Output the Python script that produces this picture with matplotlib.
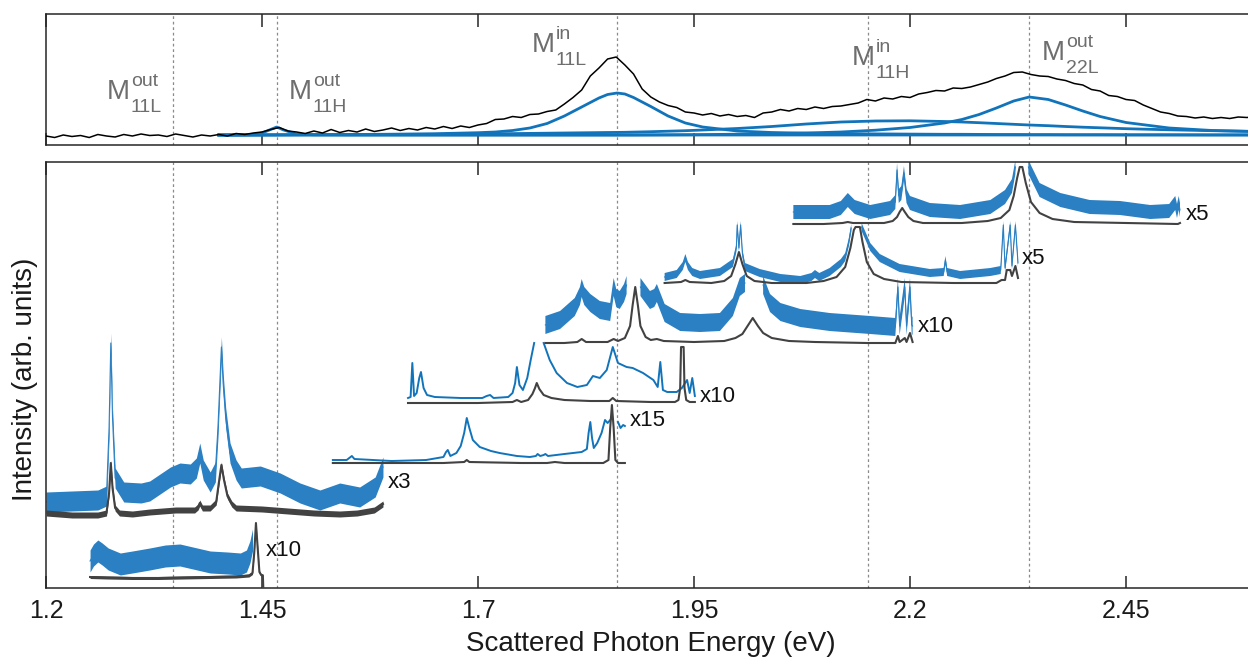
import numpy as np
import matplotlib
matplotlib.use("Agg")
import matplotlib.pyplot as plt

plt.rcParams['font.family'] = ['Liberation Sans', 'DejaVu Sans']

# ---------------- data ----------------
# Upper panel: measured spectrum (arb. units), sampled every 0.01 eV from 1.20 eV
top_e0, top_de = 1.20, 0.01
top_counts = [
    9.0, 7.5, 10.0, 8.5, 9.5, 7.5, 10.5, 9.0, 8.0, 10.5,
    9.0, 11.0, 9.5, 10.0, 8.5, 11.0, 9.5, 8.0, 10.0, 9.0,
    10.5, 9.0, 11.5, 10.5, 12.0, 13.0, 15.5, 17.5, 14.0, 13.0,
    11.5, 14.0, 12.0, 15.5, 12.5, 14.5, 13.0, 16.0, 13.5, 15.0,
    17.0, 14.5, 16.5, 15.0, 17.5, 16.0, 18.5, 16.5, 19.0, 17.5,
    20.0, 21.5, 25.5, 26.0, 28.5, 27.5, 30.5, 31.0, 33.5, 35.0,
    41.0, 47.5, 55.0, 69.0, 77.0, 86.0, 88.0, 80.0, 71.0, 56.0,
    48.0, 43.0, 39.5, 37.5, 33.0, 32.0, 30.0, 31.5, 29.0, 30.5,
    28.5, 29.5, 27.5, 32.0, 33.0, 35.5, 34.0, 36.5, 35.5, 38.0,
    36.5, 38.5, 39.0, 40.5, 42.0, 45.5, 44.0, 47.0, 46.0, 48.5,
    47.5, 51.0, 52.5, 54.5, 54.0, 57.0, 56.5, 58.0, 60.5, 63.0,
    66.5, 69.0, 72.5, 73.0, 70.5, 69.0, 68.5, 66.0, 64.5, 61.5,
    60.0, 55.5, 54.0, 49.5, 48.5, 45.5, 44.5, 40.0, 36.5, 33.0,
    31.5, 29.0, 28.5, 27.0, 28.0, 26.5, 27.5, 26.5, 28.0, 27.5,
    28.5,
]

# Upper panel: fitted components
fit_energy = [1.40, 1.42, 1.44, 1.45, 1.46, 1.467, 1.475, 1.49, 1.51, 1.55,
              1.60, 1.65, 1.70, 1.72, 1.74, 1.76, 1.78, 1.80, 1.82, 1.84,
              1.85, 1.861, 1.87, 1.88, 1.90, 1.92, 1.94, 1.96, 2.00, 2.04,
              2.08, 2.12, 2.16, 2.20, 2.24, 2.26, 2.28, 2.30, 2.32, 2.338,
              2.36, 2.38, 2.40, 2.42, 2.45, 2.50, 2.55, 2.60]
fit_m11h_out = [10.0, 10.1, 10.5, 12.0, 15.5, 18.0, 15.0, 11.0, 10.2, 10.0,
                10.0, 10.0, 10.0, 10.0, 10.0, 10.0, 10.0, 10.0, 10.0, 10.0,
                10.0, 10.0, 10.0, 10.0, 10.0, 10.0, 10.0, 10.0, 10.0, 10.0,
                10.0, 10.0, 10.0, 10.0, 10.0, 10.0, 10.0, 10.0, 10.0, 10.0,
                10.0, 10.0, 10.0, 10.0, 10.0, 10.0, 10.0, 10.0]
fit_m11l_in = [10.0, 10.0, 10.0, 10.1, 10.1, 10.1, 10.2, 10.2, 10.3, 10.5,
               10.8, 11.3, 12.3, 13.0, 14.5, 17.0, 21.5, 29.0, 38.0, 47.0,
               50.5, 52.0, 51.0, 47.5, 38.5, 29.0, 22.0, 18.0, 14.0, 12.5,
               11.8, 11.4, 11.1, 10.9, 10.7, 10.7, 10.6, 10.5, 10.5, 10.4,
               10.4, 10.3, 10.3, 10.3, 10.2, 10.2, 10.1, 10.1]
fit_m11h_in = [10.0, 10.0, 10.0, 10.0, 10.1, 10.1, 10.1, 10.2, 10.2, 10.3,
               10.4, 10.6, 11.0, 11.2, 11.4, 11.6, 11.8, 12.0, 12.2, 12.4,
               12.5, 12.6, 12.7, 12.9, 13.3, 13.8, 14.3, 15.0, 16.5, 18.5,
               21.0, 23.0, 24.0, 24.2, 23.5, 23.0, 22.3, 21.5, 20.7, 20.0,
               19.3, 18.5, 17.8, 17.2, 16.3, 15.2, 14.3, 13.5]
fit_m22l_out = [10.0, 10.0, 10.0, 10.0, 10.0, 10.0, 10.0, 10.0, 10.0, 10.0,
                10.0, 10.0, 10.0, 10.0, 10.0, 10.0, 10.0, 10.0, 10.0, 10.0,
                10.0, 10.0, 10.0, 10.0, 10.1, 10.2, 10.3, 10.4, 10.8, 11.3,
                12.0, 13.0, 14.8, 17.5, 22.0, 25.5, 30.5, 37.0, 44.0, 48.0,
                45.5, 40.0, 34.0, 28.5, 22.5, 17.0, 14.5, 13.5]

# Transition energies (eV)
transitions = [1.347, 1.467, 1.861, 2.151, 2.338]
state_names = [("out", "11L"), ("out", "11H"), ("in", "11L"), ("in", "11H"), ("out", "22L")]

# Lower panel: stacked spectra (energy eV, intensity arb. units, offsets included)
s1_gray = [(1.251, 11), (1.270, 10.5), (1.300, 10), (1.330, 10), (1.360, 10.5), (1.390, 11),
           (1.420, 11.5), (1.435, 12.5), (1.439, 15), (1.441, 35), (1.443, 65), (1.445, 40),
           (1.447, 16), (1.449, 13), (1.451, 12.5), (1.4515, 0)]
s1_blue = [(1.251, 27), (1.255, 33), (1.260, 37), (1.265, 34), (1.272, 29), (1.286, 24),
           (1.300, 26), (1.320, 29), (1.338, 32), (1.355, 33), (1.370, 30), (1.390, 26),
           (1.410, 25), (1.425, 24), (1.432, 27), (1.436, 36), (1.439, 48)]

s2_gray = [(1.200, 75), (1.230, 73), (1.260, 73), (1.270, 75), (1.273, 95), (1.275, 125),
           (1.277, 100), (1.280, 80), (1.285, 75), (1.300, 74), (1.320, 76), (1.350, 78),
           (1.372, 78), (1.376, 81), (1.378, 85), (1.381, 80), (1.390, 80), (1.397, 86),
           (1.400, 105), (1.403, 123), (1.406, 108), (1.410, 92), (1.415, 84), (1.420, 80),
           (1.450, 79), (1.480, 77), (1.510, 75), (1.540, 74), (1.560, 75), (1.580, 78),
           (1.590, 84)]
s2_blue = [(1.200, 86), (1.230, 87), (1.260, 88), (1.270, 92), (1.273, 160), (1.275, 245),
           (1.277, 170), (1.280, 110), (1.290, 96), (1.310, 95), (1.320, 97), (1.332, 104),
           (1.344, 111), (1.355, 115), (1.367, 114), (1.374, 120), (1.378, 135), (1.382, 118),
           (1.390, 106), (1.396, 116), (1.399, 160), (1.403, 241), (1.405, 205), (1.408, 170),
           (1.413, 135), (1.420, 118), (1.426, 110), (1.448, 112), (1.471, 105), (1.494, 95),
           (1.517, 88), (1.540, 95), (1.563, 91), (1.581, 101), (1.590, 121)]

s3_gray = [(1.532, 125), (1.560, 125), (1.600, 125), (1.660, 125), (1.684, 126), (1.687, 128),
           (1.690, 126), (1.750, 125), (1.780, 125), (1.789, 126), (1.800, 125), (1.830, 125),
           (1.845, 125), (1.851, 128), (1.853, 160), (1.855, 183), (1.857, 160), (1.859, 128),
           (1.862, 125), (1.870, 125)]
s3_blue = [(1.532, 128), (1.548, 128), (1.551, 130), (1.554, 132), (1.557, 129), (1.600, 127),
           (1.640, 128), (1.660, 131), (1.663, 136), (1.665, 138), (1.668, 132), (1.675, 135),
           (1.680, 142), (1.684, 155), (1.687, 170), (1.690, 160), (1.694, 148), (1.702, 141),
           (1.715, 137), (1.725, 135), (1.745, 132), (1.760, 131), (1.767, 132), (1.769, 134),
           (1.772, 132), (1.776, 133), (1.778, 134), (1.781, 132), (1.800, 134), (1.820, 136),
           (1.826, 139), (1.828, 155), (1.830, 166), (1.832, 150), (1.834, 140), (1.838, 145),
           (1.843, 155), (1.847, 168), (1.850, 165), (1.855, 170), (1.858, np.nan), (1.862, 166),
           (1.865, 160), (1.868, 163), (1.870, 162)]

s4_gray = [(1.619, 185), (1.650, 185), (1.700, 185), (1.740, 186), (1.745, 188), (1.750, 186),
           (1.758, 188), (1.763, 194), (1.766, 200), (1.768, 205), (1.771, 199), (1.776, 193),
           (1.785, 190), (1.800, 188), (1.830, 187), (1.852, 187), (1.856, 190), (1.860, 187),
           (1.900, 186), (1.928, 186), (1.932, 188), (1.934, 200), (1.935, 241), (1.938, 241),
           (1.939, 200), (1.941, 188), (1.945, 186), (1.951, 186)]
s4_blue = [(1.619, 190), (1.622, 191), (1.624, 225), (1.626, 192), (1.629, 195), (1.632, 210),
           (1.634, 216), (1.637, 200), (1.641, 193), (1.650, 191), (1.680, 190), (1.705, 190),
           (1.710, 192), (1.714, 193), (1.718, 190), (1.735, 191), (1.740, 195), (1.743, 205),
           (1.745, 221), (1.748, 203), (1.752, 198), (1.757, 210), (1.761, 228), (1.765, 245),
           (1.770, np.nan), (1.776, 245), (1.783, 228), (1.791, 215), (1.803, 205), (1.815, 201),
           (1.826, 203), (1.833, 212), (1.841, 210), (1.849, 218), (1.856, 241), (1.862, 225),
           (1.872, 221), (1.879, 220), (1.891, 215), (1.903, 208), (1.908, 201), (1.911, 226),
           (1.914, 198), (1.919, 196), (1.930, 196), (1.936, 200), (1.942, 208), (1.945, 195),
           (1.948, 210), (1.951, 192)]

s5_gray = [(1.778, 245), (1.800, 245), (1.815, 246), (1.820, 249), (1.825, 246), (1.850, 246),
           (1.857, 249), (1.862, 247), (1.870, 250), (1.876, 262), (1.879, 283), (1.882, 301),
           (1.885, 283), (1.888, 262), (1.894, 251), (1.900, 248), (1.907, 249), (1.915, 247),
           (1.950, 246), (1.985, 247), (1.998, 250), (2.006, 254), (2.012, 262), (2.018, 270),
           (2.024, 262), (2.030, 255), (2.040, 250), (2.060, 247), (2.090, 246), (2.150, 245),
           (2.183, 245), (2.186, 252), (2.188, 246), (2.194, 250), (2.196, 246), (2.200, 255),
           (2.203, 246)]
s5_blue = [(1.778, 263), (1.795, 268), (1.812, 281), (1.818, 292), (1.820, 300), (1.823, 292),
           (1.830, 285), (1.841, 278), (1.853, 276), (1.857, 301), (1.860, 290), (1.864, 288),
           (1.869, 295), (1.872, 303), (1.874, np.nan), (1.888, 301), (1.899, 288), (1.904, 290),
           (1.907, 295), (1.916, 275), (1.934, 266), (1.957, 265), (1.980, 266), (1.995, 281),
           (2.003, 301), (2.009, 305), (2.012, np.nan), (2.030, 303), (2.038, 285), (2.050, 276),
           (2.073, 270), (2.107, 266), (2.154, 263), (2.183, 261), (2.186, 301), (2.188, 262),
           (2.194, 301), (2.196, 262), (2.200, 301), (2.202, 263), (2.203, 262)]

s6_gray = [(1.916, 305), (1.935, 306), (1.940, 308), (1.945, 306), (1.970, 305), (1.985, 307),
           (1.993, 312), (1.998, 324), (2.002, 336), (2.006, 324), (2.011, 312), (2.020, 307),
           (2.040, 305), (2.080, 305), (2.100, 307), (2.115, 311), (2.125, 321), (2.131, 340),
           (2.135, 358), (2.137, 361), (2.142, 361), (2.145, 346), (2.150, 326), (2.158, 314),
           (2.170, 309), (2.190, 306), (2.250, 305), (2.300, 305), (2.306, 308), (2.310, 308),
           (2.312, 318), (2.316, 318), (2.318, 312), (2.322, 322), (2.325, 310)]
s6_blue = [(1.916, 311), (1.930, 314), (1.937, 322), (1.940, 330), (1.943, 322), (1.948, 316),
           (1.957, 313), (1.980, 316), (1.995, 325), (1.999, 340), (2.000, 363), (2.002, 340),
           (2.004, 363), (2.006, 335), (2.009, 321), (2.026, 315), (2.050, 310), (2.073, 308),
           (2.086, 311), (2.090, 314), (2.095, 311), (2.107, 316), (2.120, 325), (2.125, 331),
           (2.129, 345), (2.132, 360), (2.134, np.nan), (2.144, 361), (2.154, 341), (2.165, 330),
           (2.188, 320), (2.223, 315), (2.239, 316), (2.241, 328), (2.243, 316), (2.258, 313),
           (2.293, 316), (2.305, 318), (2.308, 363), (2.310, 320), (2.316, 363), (2.318, 322),
           (2.322, 363), (2.325, 325)]

s7_gray = [(2.065, 364), (2.100, 364), (2.122, 365), (2.128, 366), (2.134, 365), (2.170, 365),
           (2.180, 367), (2.185, 371), (2.188, 376), (2.191, 380), (2.194, 376), (2.198, 371),
           (2.204, 367), (2.215, 365), (2.260, 365), (2.290, 367), (2.305, 370), (2.315, 378),
           (2.320, 392), (2.324, 410), (2.327, 421), (2.330, 421), (2.334, 405), (2.340, 386),
           (2.350, 375), (2.365, 369), (2.390, 366), (2.450, 365), (2.510, 364), (2.5125, 365)]
s7_blue = [(2.065, 376), (2.107, 376), (2.120, 380), (2.128, 388), (2.136, 381), (2.154, 376),
           (2.177, 380), (2.183, 386), (2.185, 418), (2.187, 392), (2.190, 395), (2.193, 415),
           (2.196, 392), (2.200, 385), (2.223, 378), (2.258, 376), (2.293, 381), (2.310, 391),
           (2.318, 402), (2.322, 421), (2.323, np.nan), (2.337, 421), (2.350, 398), (2.374, 388),
           (2.408, 381), (2.443, 380), (2.478, 376), (2.500, 377), (2.507, 385), (2.509, 377),
           (2.511, 385), (2.5125, 378)]

gray_traces = [s1_gray, s2_gray, s3_gray, s4_gray, s5_gray, s6_gray, s7_gray]
blue_traces = [s1_blue, s2_blue, s3_blue, s4_blue, s5_blue, s6_blue, s7_blue]
scale_factors = ["x10", "x3", "x15", "x10", "x10", "x5", "x5"]
# half-width of the noise band on each trace (arb. units)
blue_noise = [11, 10, 0, 0, 9, 4, 7]
gray_noise = [1.5, 3, 0, 0, 0, 0, 0]

x_ticks = [1.2, 1.45, 1.7, 1.95, 2.2, 2.45]
x_tick_labels = ["1.2", "1.45", "1.7", "1.95", "2.2", "2.45"]

# ---------------- styling ----------------
BLUE = "#1174bb"
BAND = "#2a80c2"
GRAY_TRACE = "#424242"
SPINE = "#262626"
LABEL_GRAY = "#6e6e6e"
DOT = "#8a8a8a"

W, H = 1248, 666
fig = plt.figure(figsize=(W / 100, H / 100), dpi=100)
x_lo, x_hi = 1.2, 2.6
ax_w = (1255.6 - 46) / W
ax_top = fig.add_axes([46 / W, 1 - 145 / H, ax_w, 131 / H])
ax_bot = fig.add_axes([46 / W, 1 - 588 / H, ax_w, 426 / H])

for ax in (ax_top, ax_bot):
    ax.set_xlim(x_lo, x_hi)
    ax.set_xticks(x_ticks)
    ax.set_xticklabels(x_tick_labels)
    ax.set_yticks([])
    for s in ax.spines.values():
        s.set_color(SPINE)
        s.set_linewidth(1.1)
    ax.tick_params(axis="x", direction="in", top=True, bottom=True, length=9,
                   width=1.1, color=SPINE, labelsize=18, labelcolor="#1a1a1a", pad=8)
    for e in transitions:
        ax.axvline(e, color=DOT, lw=0.9, ls=(0, (2.2, 2.2)), zorder=0.5)

ax_top.tick_params(labelbottom=False)
ax_top.set_ylim(0, 131)
ax_bot.set_ylim(0, 426)

# upper panel
top_energy = top_e0 + top_de * np.arange(len(top_counts))
for comp in (fit_m11h_out, fit_m11l_in, fit_m11h_in, fit_m22l_out):
    ax_top.plot(fit_energy, comp, color=BLUE, lw=2.0, zorder=2)
ax_top.plot(top_energy, top_counts, color="black", lw=1.1, zorder=3)

label_spots = [(1.2706, 0.351), (1.4813, 0.351), (1.7625, 0.710), (2.1329, 0.611), (2.3528, 0.649)]
for (sup, sub), (lx, ly) in zip(state_names, label_spots):
    kw = dict(xycoords=("data", "axes fraction"), color=LABEL_GRAY, ha="left", va="baseline")
    ax_top.annotate("M", xy=(lx, ly), fontsize=20, **kw)
    ax_top.annotate(sup, xy=(lx, ly), xytext=(17.2, 9.4), textcoords="offset points",
                    fontsize=14, **kw)
    ax_top.annotate(sub, xy=(lx, ly), xytext=(17.2, -9.4), textcoords="offset points",
                    fontsize=14, **kw)

# lower panel
label_offsets = [(2, 37), (5, 31), (5, 43), (5, 5), (5, 16), (4, 20), (6, 10)]
for gtr, btr, fac, bn, gn, (dx, dy) in zip(gray_traces, blue_traces, scale_factors,
                                           blue_noise, gray_noise, label_offsets):
    be, bv = np.array(btr, dtype=float).T
    ge, gv = np.array(gtr, dtype=float).T
    if bn > 0:
        ax_bot.fill_between(be, bv - bn, bv + bn, color=BAND, lw=0, zorder=2)
        ax_bot.plot(be, bv, color=BAND, lw=0.8, zorder=2)
    else:
        ax_bot.plot(be, bv, color=BLUE, lw=1.4, zorder=2)
    if gn > 0:
        ax_bot.fill_between(ge, gv - gn, gv + gn, color=GRAY_TRACE, lw=0, zorder=3)
    ax_bot.plot(ge, gv, color=GRAY_TRACE, lw=1.5, zorder=3)
    # scale factor label next to the end of the trace
    ax_bot.annotate(fac, xy=(ge[-1], np.nanmin(gv[-3:])), xytext=(dx * 0.72, dy * 0.72),
                    textcoords="offset points", fontsize=16, ha="left", va="center",
                    color="#111111")

ax_bot.set_xlabel("Scattered Photon Energy (eV)", fontsize=20, color="#1a1a1a", labelpad=6)
fig.text(25 / W, 0.43, "Intensity (arb. units)", rotation=90, fontsize=20,
         ha="center", va="center", color="#1a1a1a")

fig.savefig("out.png", dpi=100)
